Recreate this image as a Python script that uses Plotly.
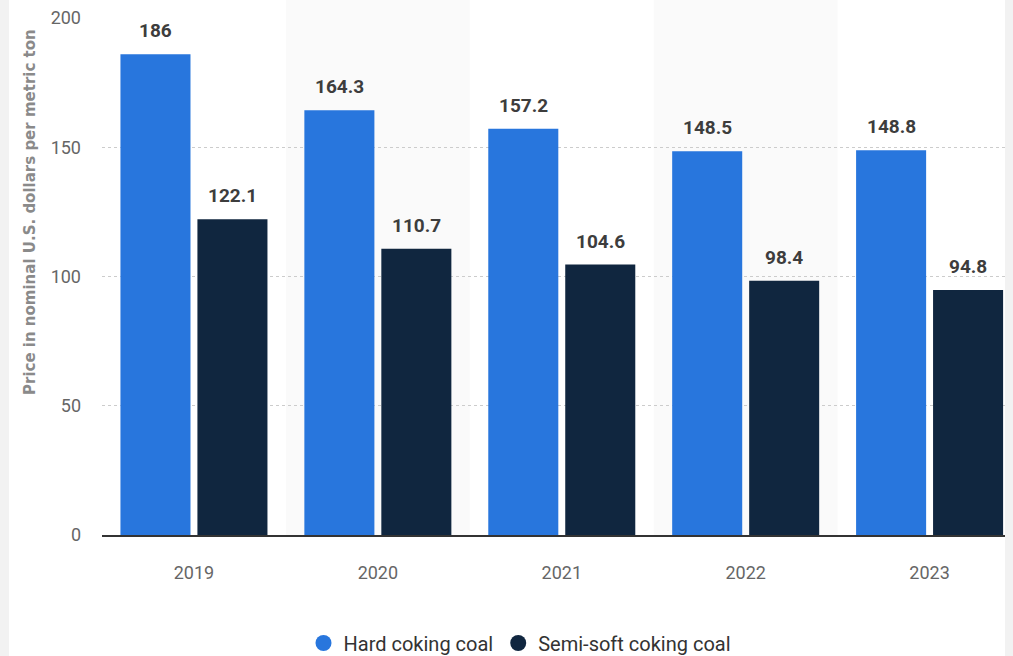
import plotly.graph_objects as go

years = ["2019", "2020", "2021", "2022", "2023"]
hard_coking = [186, 164.3, 157.2, 148.5, 148.8]
semi_soft = [122.1, 110.7, 104.6, 98.4, 94.8]
series_names = ["Hard coking coal", "Semi-soft coking coal"]
colors = ["#2876dd", "#10263f"]

FONT = "Roboto, sans-serif"

x_lo, x_hi = -0.5, 4.41
span = x_hi - x_lo
BARGAP = 0.163
GROUPGAP = 0.09

fig = go.Figure()
for name, vals, col in zip(series_names, [hard_coking, semi_soft], colors):
    fig.add_trace(go.Bar(x=years, y=vals, name=name, marker=dict(color=col, line=dict(width=0)),
                         showlegend=False, hoverinfo="skip"))
    fig.add_trace(go.Scatter(x=[None], y=[None], mode="markers", name=name,
                             marker=dict(symbol="circle", size=19, color=col)))

# value labels
slot = (1 - BARGAP) / 2
for k, vals in enumerate([hard_coking, semi_soft]):
    off = -slot / 2 if k == 0 else slot / 2
    for i, v in enumerate(vals):
        fig.add_annotation(x=i + off, y=v, xref="x", yref="y", text=f"<b>{v:g}</b>",
                           showarrow=False, yanchor="bottom", yshift=10,
                           font=dict(family=FONT, size=19, color="#3d3d3d"))

shapes = [
    dict(type="rect", xref="paper", yref="paper", x0=(9 - 102) / 903, x1=1.0, y0=-0.3, y1=1.05,
         fillcolor="white", line=dict(width=0), layer="below"),
]
for i in range(len(years)):
    if i % 2 == 1:
        shapes.append(dict(type="rect", xref="paper", yref="paper",
                           x0=(i - 0.5 - x_lo) / span, x1=(i + 0.5 - x_lo) / span,
                           y0=0, y1=1.05, fillcolor="#fafafa", line=dict(width=0), layer="below"))

fig.add_annotation(text="<b>Price in nominal U.S. dollars per metric ton</b>", textangle=-90,
                   xref="paper", yref="paper", x=(30 - 102) / 903, y=(535 - 212) / 517,
                   xanchor="center", yanchor="middle",
                   showarrow=False, font=dict(family="DejaVu Sans, sans-serif", size=15, color="#8a8a8a"))

fig.update_layout(
    width=1013, height=656,
    margin=dict(l=102, r=8, t=18, b=121, autoexpand=False),
    paper_bgcolor="#f2f2f2", plot_bgcolor="rgba(0,0,0,0)",
    barmode="group", bargap=BARGAP, bargroupgap=GROUPGAP,
    shapes=shapes,
    showlegend=True,
    legend=dict(orientation="h", x=(520 - 102) / 903, xanchor="center", y=(535 - 643) / 517,
                yanchor="middle", font=dict(family=FONT, size=20, color="#333333"),
                bgcolor="rgba(0,0,0,0)", itemwidth=30),
    font=dict(family=FONT),
)
fig.update_xaxes(range=[x_lo, x_hi], showgrid=False, showline=True, linecolor="#333333", linewidth=2,
                 tickfont=dict(family=FONT, size=18, color="#666666"), ticks="",
                 ticklabelstandoff=20, fixedrange=True)
fig.update_yaxes(range=[0, 200], dtick=50, showgrid=True, gridcolor="#cccccc", griddash="dot",
                 gridwidth=1, zeroline=False, showline=False,
                 tickfont=dict(family=FONT, size=18, color="#666666"), ticks="",
                 ticklabelstandoff=20, fixedrange=True)

fig.write_html("out.html", config={"displayModeBar": False},
               post_script="document.body.style.margin='0px';document.body.style.overflow='hidden';")
